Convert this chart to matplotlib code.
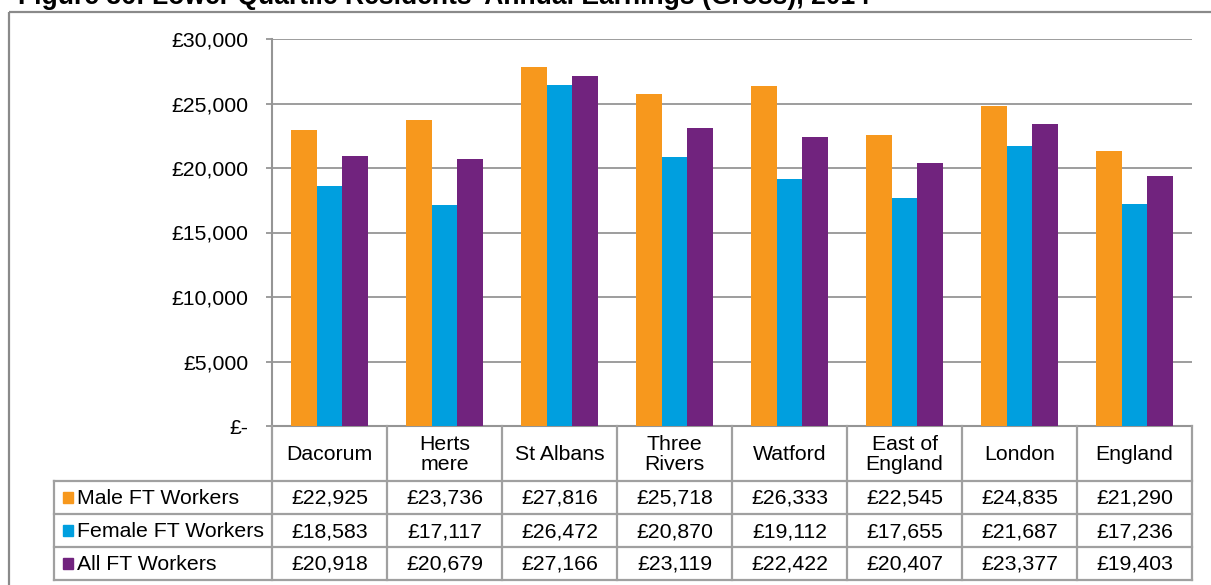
import numpy as np
import matplotlib

matplotlib.use("Agg")
import matplotlib.pyplot as plt
from matplotlib.patches import Rectangle

plt.rcParams["font.family"] = ["Liberation Sans", "DejaVu Sans"]

areas = ["Dacorum", "Herts\nmere", "St Albans", "Three\nRivers", "Watford",
         "East of\nEngland", "London", "England"]
series = ["Male FT Workers", "Female FT Workers", "All FT Workers"]
male = [22925, 23736, 27816, 25718, 26333, 22545, 24835, 21290]
female = [18583, 17117, 26472, 20870, 19112, 17655, 21687, 17236]
all_ft = [20918, 20679, 27166, 23119, 22422, 20407, 23377, 19403]
values = [male, female, all_ft]
colors = ["#F7981D", "#009FDF", "#71237E"]
title = "Figure 36: Lower Quartile Residents' Annual Earnings (Gross), 2014"

W, H = 1211, 585
GRID = "#959595"
FS = 15.3

fig = plt.figure(figsize=(W / 100, H / 100), dpi=100, facecolor="white")

# plot area in pixel terms
x0, x1, y_top, y_zero = 272, 1192, 39, 426
ax = fig.add_axes([x0 / W, 1 - y_zero / H, (x1 - x0) / W, (y_zero - y_top) / H])

n = len(areas)
x = np.arange(n)
bw = 0.222
for i, (vals, col) in enumerate(zip(values, colors)):
    ax.bar(x + (i - 1) * bw, vals, width=bw, color=col, zorder=3, linewidth=0)

ax.set_xlim(-0.5, n - 0.5)
ax.set_ylim(0, 30000)
ticks = np.arange(0, 30001, 5000)
ax.set_yticks(ticks)
ax.set_yticklabels(["£-" if t == 0 else f"£{t:,}" for t in ticks], fontsize=FS)
ax.set_xticks([])
ax.grid(axis="y", color=GRID, linewidth=1.3, zorder=0)
ax.tick_params(axis="y", length=4, width=1.3, color=GRID, pad=13.2)
for s in ("top", "right"):
    ax.spines[s].set_visible(False)
for s in ("left", "bottom"):
    ax.spines[s].set_color(GRID)
    ax.spines[s].set_linewidth(1.5)

# data table underneath, drawn in pixel coordinates
tab = fig.add_axes([0, 0, 1, 1], zorder=5)
tab.set_xlim(0, W)
tab.set_ylim(H, 0)
tab.axis("off")
tab.patch.set_alpha(0)

cols = np.linspace(x0, x1, n + 1)
rows = [y_zero, 481, 514, 547, 580]
lab_left = 54
lk = dict(color="#a0a0a0", linewidth=1.6, solid_capstyle="projecting")

for cx in cols:
    tab.plot([cx, cx], [rows[0], rows[-1]], **lk)
tab.plot([lab_left, lab_left], [rows[1], rows[-1]], **lk)
for ry in rows[1:]:
    tab.plot([lab_left, x1], [ry, ry], **lk)

for j, name in enumerate(areas):
    cx = (cols[j] + cols[j + 1]) / 2
    tab.text(cx, (rows[0] + rows[1]) / 2 + 1, name, ha="center", va="center",
             fontsize=FS, linespacing=1.1)
    for i, vals in enumerate(values):
        tab.text(cx, (rows[i + 1] + rows[i + 2]) / 2 + 1, f"£{vals[j]:,}",
                 ha="center", va="center", fontsize=FS)

for i, (name, col) in enumerate(zip(series, colors)):
    ym = (rows[i + 1] + rows[i + 2]) / 2
    tab.add_patch(Rectangle((62.5, ym - 6), 10, 11, color=col))
    tab.text(77, ym + 1, name, ha="left", va="center", fontsize=FS)

# outer chart border
tab.add_patch(Rectangle((9, 12), W, H, fill=False, edgecolor="#8a8a8a", linewidth=1.6))

fig.text(18 / W, 1 - 4 / H, title, fontsize=19.1, fontweight="bold", va="baseline", ha="left")

fig.savefig("out.png", dpi=100, facecolor="white")
